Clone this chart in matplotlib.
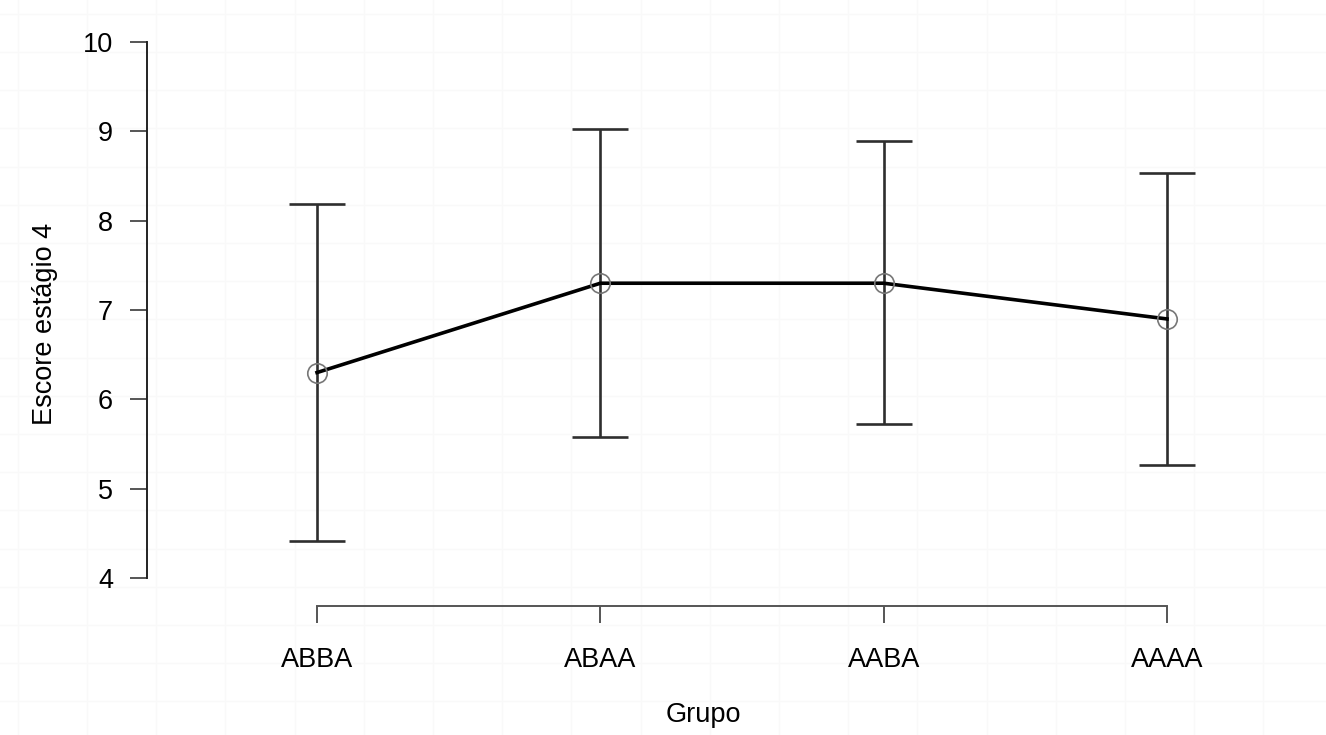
import numpy as np
import matplotlib
matplotlib.use("Agg")
import matplotlib.pyplot as plt

groups = ["ABBA", "ABAA", "AABA", "AAAA"]
means = [6.30, 7.30, 7.30, 6.90]
upper = [8.19, 9.03, 8.89, 8.53]
lower = [4.42, 5.58, 5.72, 5.27]
yticks = [4, 5, 6, 7, 8, 9, 10]

W, H = 1326, 735
plt.rcParams['font.family'] = ['Liberation Sans', 'DejaVu Sans']
fig = plt.figure(figsize=(W / 100, H / 100), dpi=100)

# faint page grid in background
bg = fig.add_axes([0, 0, 1, 1], zorder=-10)
bg.set_xlim(0, W)
bg.set_ylim(H, 0)
bg.axis("off")
for gx in np.arange(17.8, W, 69.2):
    bg.axvline(gx, color="#f9f9f9", lw=1)
for gy in np.arange(13.8, H, 38.2):
    bg.axhline(gy, color="#f9f9f9", lw=1)

left_px, right_px, top_px, bot_px = 147, 1260, 42, 606
ax = fig.add_axes([left_px / W, 1 - bot_px / H, (right_px - left_px) / W, (bot_px - top_px) / H])
ax.patch.set_alpha(0)

x = np.arange(len(groups))
err = [np.array(means) - np.array(lower), np.array(upper) - np.array(means)]
ax.errorbar(x, means, yerr=err, fmt="none", ecolor="#2e2e2e", elinewidth=1.9,
            capsize=20, capthick=1.9, zorder=2)
ax.plot(x, means, color="black", lw=2.6, zorder=3)
ax.plot(x, means, linestyle="none", marker="o", markersize=14, markerfacecolor="none",
        markeredgecolor="#777777", markeredgewidth=1.2, zorder=4)

ax.set_xlim(-0.6, 3.328)
ax.set_ylim(3.687, 10)
ax.set_yticks(yticks)
ax.set_xticks(x)
ax.set_xticklabels(groups)

for s in ["top", "right"]:
    ax.spines[s].set_visible(False)
ax.spines["left"].set_bounds(4, 10)
ax.spines["bottom"].set_bounds(0, 3)
ax.spines["left"].set_color("#222222")
ax.spines["left"].set_linewidth(1.4)
ax.spines["bottom"].set_color("#555555")
ax.spines["bottom"].set_linewidth(1.4)
ax.tick_params(axis="y", length=12.5, width=1.4, color="#555555", labelsize=19.5, pad=12)
ax.tick_params(axis="x", length=12.5, width=1.4, color="#555555", labelsize=19.5, pad=17)

ax.set_ylabel("Escore estágio 4", fontsize=19.5, labelpad=18)
ax.set_xlabel("Grupo", fontsize=19.5, labelpad=21)

fig.savefig("out.png", dpi=100)
